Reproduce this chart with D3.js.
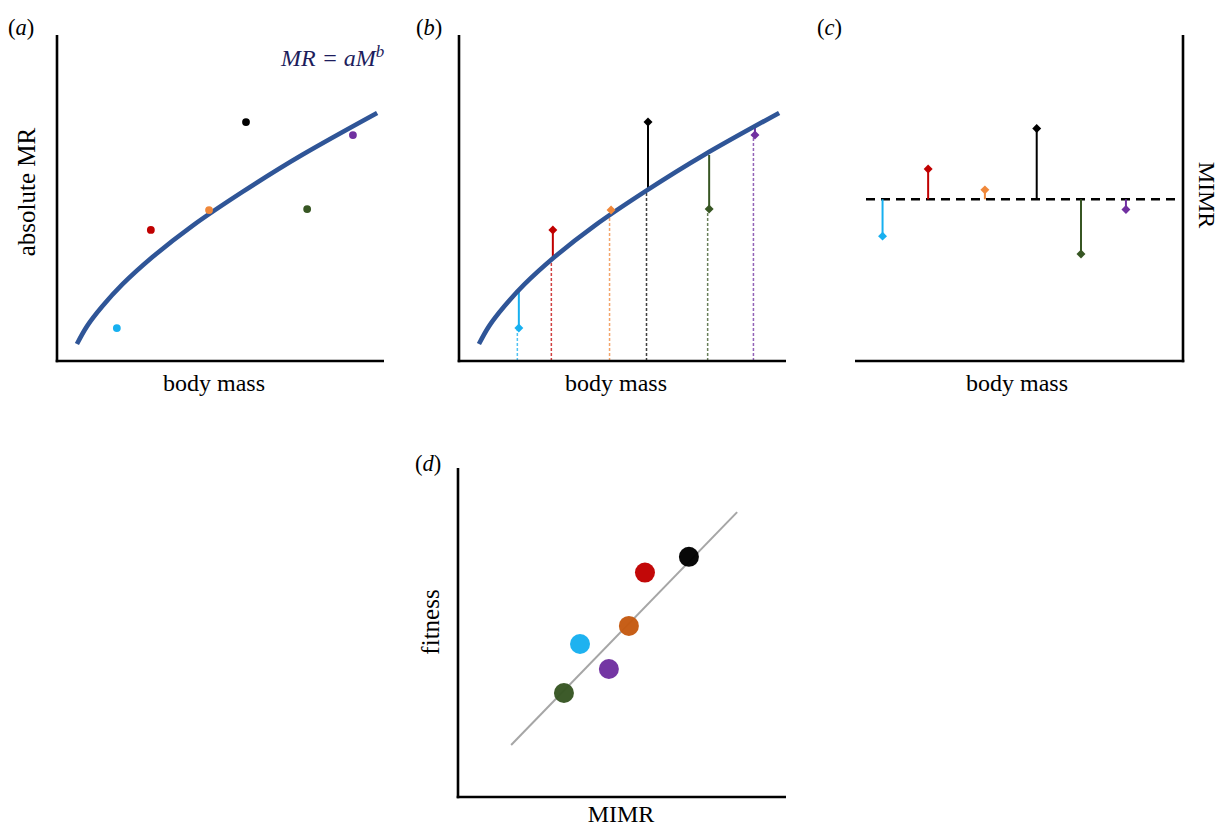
<!DOCTYPE html>
<html>
<head>
<meta charset="utf-8">
<script src="https://cdn.jsdelivr.net/npm/d3@7"></script>
<style>
  html, body { margin: 0; padding: 0; background: #ffffff; }
  svg { display: block; }
</style>
</head>
<body>
<svg id="chart" width="1222" height="827"></svg>
<script>
// ---------- data ----------
const individuals = ["cyan", "red", "orange", "black", "green", "purple"];
const colors      = ["#17b0f0", "#c00000", "#f0883a", "#000000", "#375623", "#7030a0"];
const colorsD     = ["#17b0f0", "#c00000", "#c55a11", "#000000", "#375623", "#7030a0"];

// panels (a) and (b): body mass vs absolute MR (0-100 arbitrary units)
const bodyMass    = [18.3, 28.7, 46.5, 57.8, 76.5, 90.5];
const absoluteMR  = [10.1, 40.2, 46.3, 73.3, 46.6, 69.3];
const fittedMR    = [21.8, 31.6, 45.4, 52.3, 63.2, 71.5];   // curve value at each body mass

const curveMass   = [6.1, 9.2, 13.8, 19.9, 29.1, 41.3, 56.6, 74.9, 97.9];
const curveMR     = [5.2, 10.7, 16.7, 23.4, 31.8, 41.4, 51.8, 63.2, 76.1];

// panel (c): body mass vs MIMR (residuals)
const bodyMassC   = [8.4, 22.3, 39.6, 55.4, 68.9, 82.6];
const mimrC       = [-11.3, 9.3, 2.9, 21.7, -16.8, -3.1];

// panel (d): MIMR vs fitness
const mimrD       = [37.2, 57.0, 52.1, 70.4, 32.3, 46.0];
const fitnessD    = [46.5, 68.2, 52.0, 73.0, 31.6, 38.9];
const fitLineX    = [16.2, 85.1];
const fitLineY    = [15.8, 86.6];

// ---------- drawing ----------
const FONT = "Liberation Serif";
const svg = d3.select("#chart");
const AXIS_W = 2.6;

function axisLines(g, x, y, yAxisRight) {
  const [x0, x1] = x.range();
  const [yb, yt] = y.range();
  const xa = yAxisRight ? x1 : x0;
  g.append("line").attr("x1", xa).attr("x2", xa).attr("y1", yt).attr("y2", yb + AXIS_W / 2)
    .attr("stroke", "#000").attr("stroke-width", AXIS_W);
  g.append("line").attr("x1", x0 - (yAxisRight ? 0 : AXIS_W / 2)).attr("x2", x1 + (yAxisRight ? AXIS_W / 2 : 0))
    .attr("y1", yb).attr("y2", yb)
    .attr("stroke", "#000").attr("stroke-width", AXIS_W);
}

function panelLabel(x, y, letter) {
  const t = svg.append("text").attr("x", x).attr("y", y).attr("font-size", 22.5)
    .attr("font-family", FONT).attr("fill", "#000");
  t.append("tspan").text("(");
  t.append("tspan").attr("font-style", "italic").text(letter);
  t.append("tspan").text(")");
}

function label(x, y, txt, rot, size) {
  const t = svg.append("text").attr("font-size", size || 24).attr("text-anchor", "middle")
    .attr("font-family", FONT).attr("fill", "#000").text(txt);
  if (rot) t.attr("transform", `translate(${x},${y}) rotate(${rot})`);
  else t.attr("x", x).attr("y", y);
  return t;
}

const pts = individuals.map((d, i) => ({ i, m: bodyMass[i], mr: absoluteMR[i], fit: fittedMR[i] }));
const curvePts = curveMass.map((m, i) => [m, curveMR[i]]);

const diamond = d3.symbol().type(d3.symbolSquare).size(40);

// ---- panel (a)
{
  const x = d3.scaleLinear().domain([0, 100]).range([57, 384]);
  const y = d3.scaleLinear().domain([0, 100]).range([361, 35]);
  const g = svg.append("g");
  axisLines(g, x, y, false);
  const line = d3.line().x(d => x(d[0])).y(d => y(d[1])).curve(d3.curveNatural);
  g.append("path").attr("d", line(curvePts)).attr("fill", "none")
    .attr("stroke", "#2f5597").attr("stroke-width", 4.6).attr("stroke-linecap", "butt");
  g.selectAll("circle.a").data(pts).join("circle")
    .attr("cx", d => x(d.m)).attr("cy", d => y(d.mr)).attr("r", 3.9)
    .attr("fill", d => colors[d.i]);
  const eq = g.append("text").attr("x", 281).attr("y", 66).attr("font-size", 24)
    .attr("font-family", FONT).attr("font-style", "italic").attr("fill", "#1d1d5c");
  eq.append("tspan").text("MR = aM");
  eq.append("tspan").attr("dy", -9).attr("font-size", 17).text("b");
}
panelLabel(8, 35, "a");
label(27, 192, "absolute MR", -90, 25).attr("dy", 8);
label(214, 391, "body mass");

// ---- panel (b)
{
  const x = d3.scaleLinear().domain([0, 100]).range([459, 786]);
  const y = d3.scaleLinear().domain([0, 100]).range([361, 35]);
  const g = svg.append("g");
  g.selectAll("line.drop").data(pts).join("line")
    .attr("x1", d => x(d.m) - 1.5).attr("x2", d => x(d.m) - 1.5)
    .attr("y1", y(0)).attr("y2", d => y(Math.min(d.mr, d.fit)))
    .attr("stroke", d => colors[d.i]).attr("stroke-width", 1.5).attr("stroke-dasharray", "3,2")
    .attr("opacity", 0.75);
  g.selectAll("line.res").data(pts).join("line")
    .attr("x1", d => x(d.m)).attr("x2", d => x(d.m))
    .attr("y1", d => y(d.fit)).attr("y2", d => y(d.mr))
    .attr("stroke", d => colors[d.i]).attr("stroke-width", 2);
  axisLines(g, x, y, false);
  const line = d3.line().x(d => x(d[0])).y(d => y(d[1])).curve(d3.curveNatural);
  g.append("path").attr("d", line(curvePts)).attr("fill", "none")
    .attr("stroke", "#2f5597").attr("stroke-width", 4.6);
  g.selectAll("path.dia").data(pts).join("path")
    .attr("d", diamond)
    .attr("transform", d => `translate(${x(d.m)},${y(d.mr)}) rotate(45)`)
    .attr("fill", d => colors[d.i]);
}
panelLabel(416, 35, "b");
label(616, 391, "body mass");

// ---- panel (c)
{
  const x = d3.scaleLinear().domain([0, 100]).range([855, 1183]);
  const y = d3.scaleLinear().domain([-49.6, 50.4]).range([361, 35]);
  const g = svg.append("g");
  axisLines(g, x, y, true);
  g.append("line").attr("x1", 866).attr("x2", x(100) - 2).attr("y1", y(0)).attr("y2", y(0))
    .attr("stroke", "#000").attr("stroke-width", 2.6).attr("stroke-dasharray", "9,6");
  const cp = individuals.map((d, i) => ({ i, m: bodyMassC[i], v: mimrC[i] }));
  g.selectAll("line.stem").data(cp).join("line")
    .attr("x1", d => x(d.m)).attr("x2", d => x(d.m))
    .attr("y1", y(0)).attr("y2", d => y(d.v))
    .attr("stroke", d => colors[d.i]).attr("stroke-width", 2);
  g.selectAll("path.dia").data(cp).join("path")
    .attr("d", diamond)
    .attr("transform", d => `translate(${x(d.m)},${y(d.v)}) rotate(45)`)
    .attr("fill", d => colors[d.i]);
}
panelLabel(817, 35, "c");
label(1017, 391, "body mass");
label(1199, 195, "MIMR", 90);

// ---- panel (d)
{
  const x = d3.scaleLinear().domain([0, 100]).range([458, 786]);
  const y = d3.scaleLinear().domain([0, 100]).range([797, 468]);
  const g = svg.append("g");
  axisLines(g, x, y, false);
  g.append("line")
    .attr("x1", x(fitLineX[0])).attr("y1", y(fitLineY[0]))
    .attr("x2", x(fitLineX[1])).attr("y2", y(fitLineY[1]))
    .attr("stroke", "#a6a6a6").attr("stroke-width", 2);
  const dp = individuals.map((d, i) => ({ i, m: mimrD[i], f: fitnessD[i] }));
  g.selectAll("circle.d").data(dp).join("circle")
    .attr("cx", d => x(d.m)).attr("cy", d => y(d.f)).attr("r", 10)
    .attr("fill", d => colorsD[d.i]).attr("opacity", 0.97);
}
panelLabel(415, 471, "d");
label(431, 622, "fitness", -90, 25).attr("dy", 8);
label(621, 822, "MIMR");
</script>
</body>
</html>
